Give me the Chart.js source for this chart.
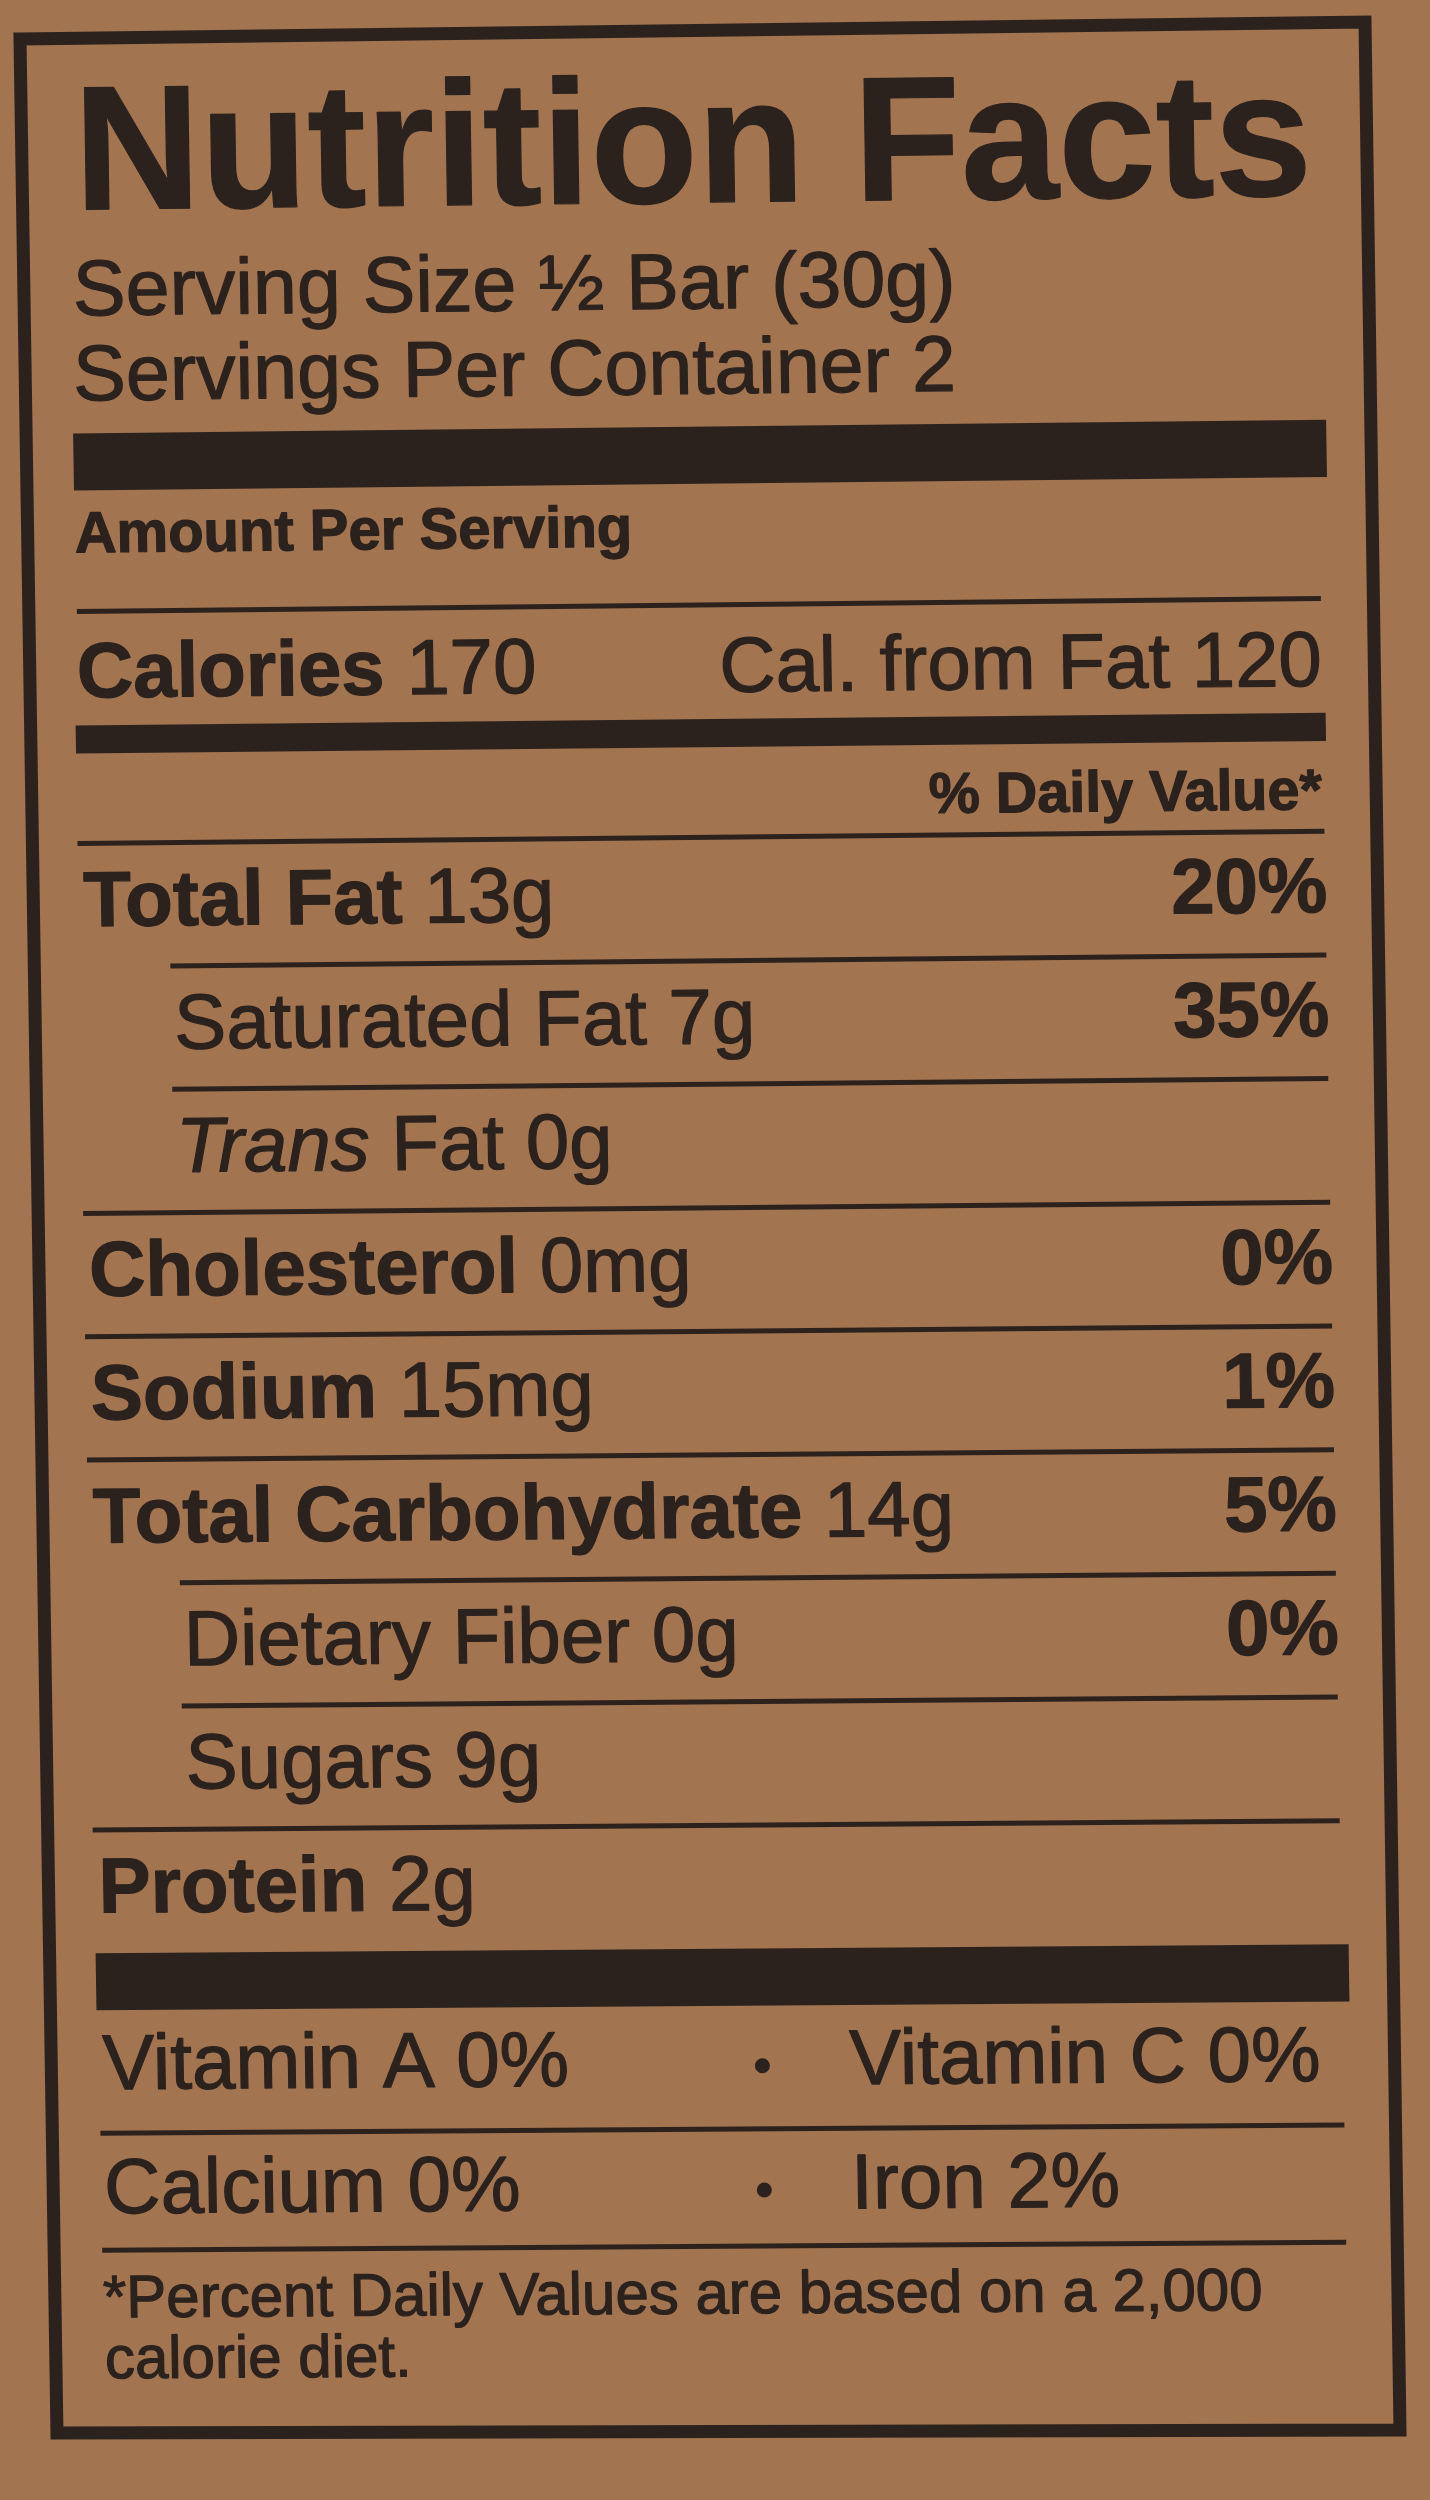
<!DOCTYPE html>
<html>
<head>
<meta charset="utf-8">
<script src="https://cdn.jsdelivr.net/npm/chart.js@4.4.1/dist/chart.umd.min.js"></script>
<style>
  html, body { margin: 0; padding: 0; background: #a27450; }
  #wrap { width: 1430px; height: 2500px; }
  canvas { display: block; }
</style>
</head>
<body>
<div id="wrap"><canvas id="label" width="1430" height="2500"></canvas></div>
<script>
// ---------------- data ----------------
const titleText = 'Nutrition Facts';
const servingSize = '½ Bar (30g)';
const servingsPerContainer = 2;
const calories = 170;
const caloriesFromFat = 120;
const nutrients = ['Total Fat', 'Saturated Fat', 'Trans Fat', 'Cholesterol', 'Sodium',
                   'Total Carbohydrate', 'Dietary Fiber', 'Sugars', 'Protein'];
const amounts = ['13g', '7g', '0g', '0mg', '15mg', '14g', '0g', '9g', '2g'];
const dailyValues = [20, 35, null, 0, 1, 5, 0, null, null];
const subNutrients = ['Saturated Fat', 'Trans Fat', 'Dietary Fiber', 'Sugars'];
const vitaminNames = ['Vitamin A', 'Vitamin C', 'Calcium', 'Iron'];
const vitaminValues = [0, 0, 0, 2];
const footnoteLines = ['*Percent Daily Values are based on a 2,000', 'calorie diet.'];

// ---------------- geometry of the (slightly skewed) printed label ----------------
const OX = 20, OY = 39;           // label origin (top-left of border centerline)
const SHX = 37 / 2394;            // vertical lean
function slopeAt(v) { return (16 - 8 * v / 2394) / 1345; }
function mapPt(u, v) { return [OX + u + SHX * v, OY + v - u * slopeAt(v)]; }
const BORDER = [[20, 39], [1365, 22], [1400, 2430], [57, 2433]];

const INK = '#2b221e';
const FONT = '"Liberation Sans", Arial, Helvetica, sans-serif';
const f = (w, s, st) => `${st || ''} ${w} ${s}px ${FONT}`.trim();

function local(ctx, u, v) {
  const p = mapPt(u, v);
  ctx.transform(1, -slopeAt(v), SHX, 1, p[0], p[1]);
}
function segWidth(ctx, segs) {
  let w = 0;
  for (const s of segs) { ctx.font = s.font; w += ctx.measureText(s.t).width; }
  return w;
}
function drawSegs(ctx, segs, u, v, align, fitW) {
  ctx.save();
  local(ctx, u, v);
  const total = segWidth(ctx, segs);
  if (fitW) ctx.scale(fitW / total, 1);
  let x = align === 'right' ? -total : 0;
  ctx.fillStyle = INK;
  ctx.strokeStyle = INK;
  ctx.lineWidth = 1.2;
  ctx.lineJoin = 'round';
  ctx.textBaseline = 'alphabetic';
  ctx.textAlign = 'left';
  for (const s of segs) {
    ctx.font = s.font;
    ctx.fillText(s.t, x, 0);
    ctx.strokeText(s.t, x, 0);
    x += ctx.measureText(s.t).width;
  }
  ctx.restore();
}
function fillQuad(ctx, u1, u2, v1, v2) {
  const pts = [mapPt(u1, v1), mapPt(u2, v1), mapPt(u2, v2), mapPt(u1, v2)];
  ctx.beginPath();
  ctx.moveTo(pts[0][0], pts[0][1]);
  for (let i = 1; i < 4; i++) ctx.lineTo(pts[i][0], pts[i][1]);
  ctx.closePath();
  ctx.fillStyle = INK;
  ctx.fill();
}
function rule(ctx, u1, u2, v, t) { fillQuad(ctx, u1, u2, v - t / 2, v + t / 2); }

const labelPlugin = {
  id: 'nutritionLabel',
  beforeDraw(chart) {
    const ctx = chart.ctx;
    ctx.save();
    ctx.fillStyle = '#a27450';
    ctx.fillRect(0, 0, chart.width, chart.height);
    ctx.restore();
  },
  afterDraw(chart) {
    const ctx = chart.ctx;
    const ys = chart.scales.y, xs = chart.scales.x;
    const L = xs.getPixelForValue(0) - OX;      // left content edge
    const R = xs.getPixelForValue(100) - OX;    // right content edge
    const band = ys.getPixelForValue(1) - ys.getPixelForValue(0);
    const IND = 88;                              // sub-row indent
    const THIN = 5;

    ctx.save();
    // border
    ctx.beginPath();
    ctx.moveTo(BORDER[0][0], BORDER[0][1]);
    for (let i = 1; i < 4; i++) ctx.lineTo(BORDER[i][0], BORDER[i][1]);
    ctx.closePath();
    ctx.lineWidth = 13;
    ctx.lineJoin = 'miter';
    ctx.strokeStyle = INK;
    ctx.stroke();

    // header
    drawSegs(ctx, [{ t: titleText, font: f('bold', 177) }], L + 4, 171, 'left', 1238);
    drawSegs(ctx, [{ t: 'Serving Size ' + servingSize, font: f('normal', 79) }], L + 1, 277, 'left');
    drawSegs(ctx, [{ t: 'Servings Per Container ' + servingsPerContainer, font: f('normal', 79) }], L, 362, 'left');
    fillQuad(ctx, L - 1, R + 8, 395, 452);
    drawSegs(ctx, [{ t: 'Amount Per Serving', font: f('bold', 58) }], L - 1, 514, 'left');
    rule(ctx, L, R, 573, THIN);
    drawSegs(ctx, [{ t: 'Calories', font: f('bold', 78) }, { t: ' ' + calories, font: f('normal', 78) }], L - 1, 659, 'left');
    drawSegs(ctx, [{ t: 'Cal. from Fat ' + caloriesFromFat, font: f('normal', 78) }], R, 660, 'right');
    fillQuad(ctx, L - 3, R + 3, 687, 715);
    drawSegs(ctx, [{ t: '% Daily Value*', font: f('bold', 57.5) }], R - 2, 783, 'right');

    // nutrient rows, positioned by the category scale
    nutrients.forEach((name, i) => {
      const vc = ys.getPixelForValue(i) - OY;
      const top = vc - band / 2;
      const sub = subNutrients.includes(name);
      rule(ctx, sub ? L + IND : L - 3, R, top, THIN);
      const x0 = sub ? L + 91 : L + 2;
      let segs;
      if (sub) {
        if (name === 'Trans Fat') {
          segs = [{ t: 'Trans', font: f('normal', 78, 'italic') }, { t: ' Fat ' + amounts[i], font: f('normal', 78) }];
        } else {
          segs = [{ t: name + ' ' + amounts[i], font: f('normal', 78) }];
        }
      } else {
        segs = [{ t: name, font: f('bold', 78) }, { t: ' ' + amounts[i], font: f('normal', 78) }];
      }
      drawSegs(ctx, segs, x0, vc + 21, 'left');
      if (dailyValues[i] !== null) {
        drawSegs(ctx, [{ t: dailyValues[i] + '%', font: f('bold', 78) }], R + 2, vc + 19, 'right');
      }
    });
    const barTop = ys.getPixelForValue(nutrients.length - 1) - OY + band / 2;
    fillQuad(ctx, L - 2, R + 7, barTop, barTop + 57);

    // vitamins & minerals
    const vRows = [[0, 1], [2, 3]];
    const vBase = [barTop + 136, barTop + 260];
    const vRules = [barTop + 180, barTop + 297];
    vRows.forEach((pair, r) => {
      const a = pair[0], b = pair[1];
      drawSegs(ctx, [{ t: vitaminNames[a] + ' ' + vitaminValues[a] + '%', font: f('normal', 78) }], L + 3, vBase[r], 'left');
      const bp = mapPt(711, vBase[r] - 19);
      ctx.beginPath();
      ctx.arc(bp[0], bp[1], 7.5, 0, Math.PI * 2);
      ctx.fillStyle = INK;
      ctx.fill();
      drawSegs(ctx, [{ t: vitaminNames[b] + ' ' + vitaminValues[b] + '%', font: f('normal', 78) }], 798, vBase[r], 'left');
      rule(ctx, L, R, vRules[r], THIN);
    });

    // footnote
    drawSegs(ctx, [{ t: footnoteLines[0], font: f('normal', 60) }], L, barTop + 364, 'left');
    drawSegs(ctx, [{ t: footnoteLines[1], font: f('normal', 60) }], L + 1, barTop + 425, 'left');
    ctx.restore();
  }
};

const ROW_TOP = 805, ROW_BOTTOM = 1914.6, LEFT_EDGE = 48, RIGHT_EDGE = 1292;

new Chart(document.getElementById('label'), {
  type: 'bar',
  data: {
    labels: nutrients,
    datasets: [{
      label: '% Daily Value',
      data: dailyValues,
      backgroundColor: 'rgba(0,0,0,0)',
      borderWidth: 0
    }]
  },
  options: {
    indexAxis: 'y',
    responsive: false,
    animation: false,
    devicePixelRatio: 1,
    layout: {
      padding: {
        top: OY + ROW_TOP,
        bottom: 2500 - (OY + ROW_BOTTOM),
        left: OX + LEFT_EDGE,
        right: 1430 - (OX + RIGHT_EDGE)
      }
    },
    scales: {
      y: { type: 'category', offset: true, display: false },
      x: { type: 'linear', min: 0, max: 100, display: false }
    },
    plugins: { legend: { display: false }, tooltip: { enabled: false } }
  },
  plugins: [labelPlugin]
});
</script>
</body>
</html>
